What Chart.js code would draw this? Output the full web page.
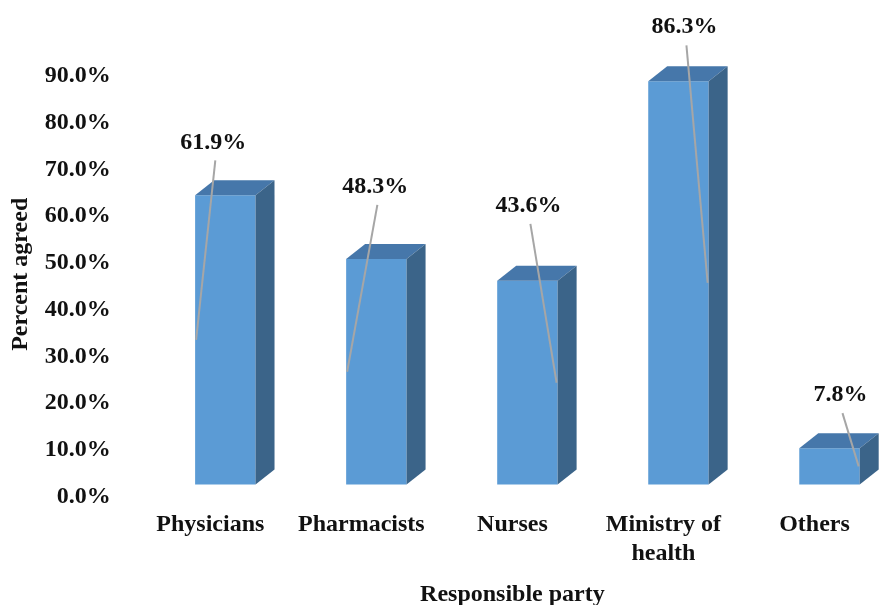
<!DOCTYPE html>
<html>
<head>
<meta charset="utf-8">
<script src="https://cdn.jsdelivr.net/npm/chart.js@4"></script>
<style>
  html, body { margin: 0; padding: 0; background: #fff; overflow: hidden; }
  #wrap { width: 890px; height: 605px; }
</style>
</head>
<body>
<div id="wrap"><canvas id="myChart"></canvas></div>
<script>
"use strict";

// data
const parties = ["Physicians", "Pharmacists", "Nurses", ["Ministry of", "health"], "Others"];
const percentAgreed = [61.9, 48.3, 43.6, 86.3, 7.8];
const yMax = 90;
const yStep = 10;

// where each value label was dragged to (px from the bar front top) and which edge its leader hits
const labelNudgeX = [-12, -1, 1, 6, 11];
const labelNudgeY = [-53, -72, -75, -54, -53];
const leaderSide = ["left", "left", "right", "right", "right"];

const frontColor = "#5b9bd5";
const topColor = "#4677aa";
const sideColor = "#3b6489";
const depthX = 19;
const depthY = -15;
const shiftX = 15;

Chart.defaults.font.family = "'Liberation Serif', 'Times New Roman', serif";
Chart.defaults.font.weight = "bold";
Chart.defaults.font.size = 24;
Chart.defaults.color = "#111";

// draws the top and side of each bar plus the callout labels
const bars3d = {
  id: "bars3d",
  beforeDatasetsDraw(chart) {
    chart.ctx.save();
    chart.ctx.translate(shiftX, 0);
  },
  afterDatasetsDraw(chart) {
    const ctx = chart.ctx;
    const meta = chart.getDatasetMeta(0);

    meta.data.forEach(function (bar) {
      const p = bar.getProps(["x", "y", "base", "width"], true);
      const l = p.x - p.width / 2;
      const r = p.x + p.width / 2;

      ctx.fillStyle = topColor;
      ctx.beginPath();
      ctx.moveTo(l, p.y);
      ctx.lineTo(l + depthX, p.y + depthY);
      ctx.lineTo(r + depthX, p.y + depthY);
      ctx.lineTo(r, p.y);
      ctx.closePath();
      ctx.fill();

      ctx.fillStyle = sideColor;
      ctx.beginPath();
      ctx.moveTo(r, p.y);
      ctx.lineTo(r + depthX, p.y + depthY);
      ctx.lineTo(r + depthX, p.base + depthY);
      ctx.lineTo(r, p.base);
      ctx.closePath();
      ctx.fill();
    });

    // labels with leader lines
    meta.data.forEach(function (bar, i) {
      const p = bar.getProps(["x", "y", "base", "width"], true);
      const lx = p.x + labelNudgeX[i];
      const ly = p.y + labelNudgeY[i];
      const endX = leaderSide[i] === "left" ? p.x - p.width / 2 + 1 : p.x + p.width / 2 - 1;
      const endY = (p.y + p.base) / 2;

      ctx.strokeStyle = "#a6a6a6";
      ctx.lineWidth = 2;
      ctx.beginPath();
      ctx.moveTo(lx + 2, ly + 18);
      ctx.lineTo(endX, endY);
      ctx.stroke();

      ctx.fillStyle = "#111";
      ctx.font = "bold 24px 'Liberation Serif', 'Times New Roman', serif";
      ctx.textAlign = "center";
      ctx.textBaseline = "middle";
      ctx.fillText(percentAgreed[i].toFixed(1) + "%", lx, ly);
    });

    ctx.restore();
  },
};

const ctx = document.getElementById("myChart");

new Chart(ctx, {
  type: "bar",
  data: {
    labels: parties,
    datasets: [
      {
        label: "Percent agreed",
        data: percentAgreed,
        backgroundColor: frontColor,
        barPercentage: 0.4,
        categoryPercentage: 1,
        clip: false,
      },
    ],
  },
  options: {
    responsive: true,
    maintainAspectRatio: false,
    animation: false,
    layout: {
      padding: { top: 64, right: 0, bottom: 0, left: 0 },
    },
    plugins: {
      legend: { display: false },
      tooltip: { enabled: false },
    },
    scales: {
      x: {
        grid: { display: false, drawTicks: false },
        border: { display: false },
        ticks: {
          padding: 26,
          maxRotation: 0,
          autoSkip: false,
        },
        title: {
          display: true,
          text: "Responsible party",
          padding: { top: 13, bottom: -4 },
        },
        // two-line label gets counted as three lines, take the extra back
        afterFit: function (scale) {
          scale.height -= 27;
        },
      },
      y: {
        min: 0,
        max: yMax,
        grid: { display: false, drawTicks: false },
        border: { display: false },
        ticks: {
          stepSize: yStep,
          padding: 24,
          labelOffset: 12,
          callback: function (value) {
            return value.toFixed(1) + "%";
          },
        },
        title: {
          display: true,
          text: "Percent agreed",
          padding: { top: 6, bottom: 10 },
        },
        afterFit: function (scale) {
          scale.width -= 24;
        },
      },
    },
  },
  plugins: [bars3d],
});
</script>
</body>
</html>
